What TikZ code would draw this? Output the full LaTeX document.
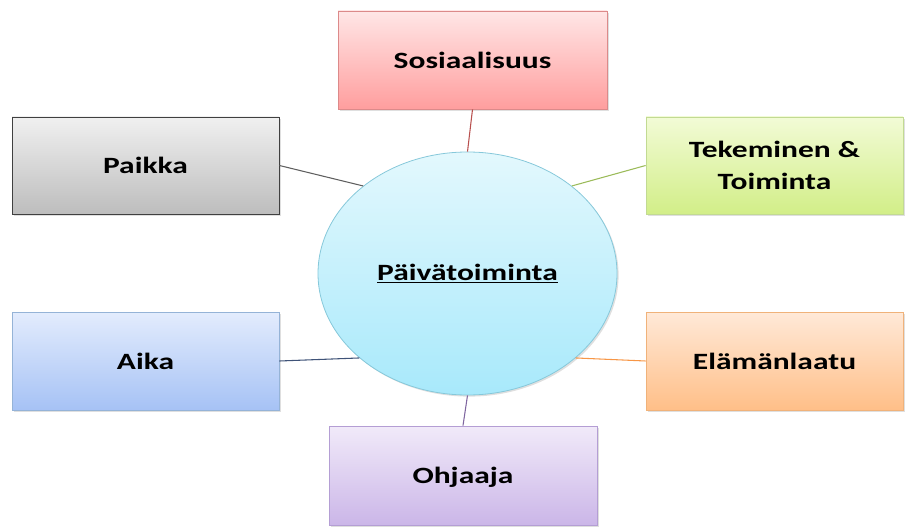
\documentclass[tikz,border=0pt]{standalone}
\usepackage{fontspec}
\setmainfont{Carlito}[FakeStretch=1.35]
\usetikzlibrary{positioning, shapes.geometric, shadows}

% box colours: reuna = border, yla = top, ala = bottom, viiva = connector
\definecolor{reunasos}{HTML}{DC8A8A}
\definecolor{ylasos}{HTML}{FFE6E6}
\definecolor{alasos}{HTML}{FF9E9E}
\definecolor{viivasos}{HTML}{B8504E}
\definecolor{reunapaikka}{HTML}{404040}
\definecolor{ylapaikka}{HTML}{F0F0F0}
\definecolor{alapaikka}{HTML}{BDBDBD}
\definecolor{viivapaikka}{HTML}{5F5F5F}
\definecolor{reunatek}{HTML}{C2DA92}
\definecolor{ylatek}{HTML}{F2FBD6}
\definecolor{alatek}{HTML}{D2EE88}
\definecolor{viivatek}{HTML}{9BBB59}
\definecolor{reunaaika}{HTML}{95B3D7}
\definecolor{ylaaika}{HTML}{E3ECFD}
\definecolor{alaaika}{HTML}{A6C2F5}
\definecolor{viivaaika}{HTML}{3F5378}
\definecolor{reunaelama}{HTML}{F0B27A}
\definecolor{ylaelama}{HTML}{FFE9D8}
\definecolor{alaelama}{HTML}{FFBF88}
\definecolor{viivaelama}{HTML}{F79646}
\definecolor{reunaohj}{HTML}{B49ED4}
\definecolor{ylaohj}{HTML}{F1EAF9}
\definecolor{alaohj}{HTML}{CBB6E8}
\definecolor{viivaohj}{HTML}{7F66A0}
\definecolor{reunakesk}{HTML}{86C8DA}
\definecolor{ylakesk}{HTML}{E3F8FD}
\definecolor{alakesk}{HTML}{A8E9FB}

\tikzset{
    aihe/.style={rectangle, inner sep=0pt, line width=0.6pt,
        font=\fontsize{17.5}{24}\selectfont\bfseries, align=center,
        drop shadow={opacity=0.25, shadow xshift=1.2pt, shadow yshift=-1.2pt}},
    yhteys/.style={line width=0.8pt},
}

\begin{document}
\begin{tikzpicture}[x=0.75pt, y=-0.75pt]
    \def\px{0.75pt}
    \useasboundingbox (0,0) rectangle (905,527);

    \coordinate (c0) at (467.5,273.5);
    \coordinate (c1) at (472.5,60);
    \coordinate (c2) at (145.5,165.5);
    \coordinate (c3) at (774.5,165.5);
    \coordinate (c4) at (145.5,361);
    \coordinate (c5) at (774.5,361);
    \coordinate (c6) at (463,475.5);

    % centre
    \node[aihe, ellipse, draw=reunakesk, top color=ylakesk, bottom color=alakesk,
        minimum width=299*\px, minimum height=243*\px] (keskus) at (c0)
        {\underline{Päivätoiminta}};

    % boxes
    \foreach \nimi/\kohta/\w/\h/\vari/\teksti in {
        sos/c1/269/98/sos/Sosiaalisuus,
        paikka/c2/267/97/paikka/Paikka,
        tek/c3/257/97/tek/{Tekeminen \&\\Toiminta},
        aika/c4/267/98/aika/Aika,
        elama/c5/257/98/elama/Elämänlaatu,
        ohj/c6/268/99/ohj/Ohjaaja}{

        \node[aihe, draw=reuna\vari, top color=yla\vari, bottom color=ala\vari,
            minimum width=\w*\px, minimum height=\h*\px, text depth=0pt]
            (\nimi) at (\kohta) {\teksti};
    }

    % connectors
    \foreach \a/\b/\co in {
        sos.south/keskus.north/viivasos,
        paikka.east/keskus.140/viivapaikka,
        tek.west/keskus.40/viivatek,
        aika.east/keskus.218/viivaaika,
        elama.west/keskus.322/viivaelama,
        ohj.north/keskus.south/viivaohj}{

        \draw[yhteys, \co] (\a) -- (\b);
    }
\end{tikzpicture}
\end{document}
